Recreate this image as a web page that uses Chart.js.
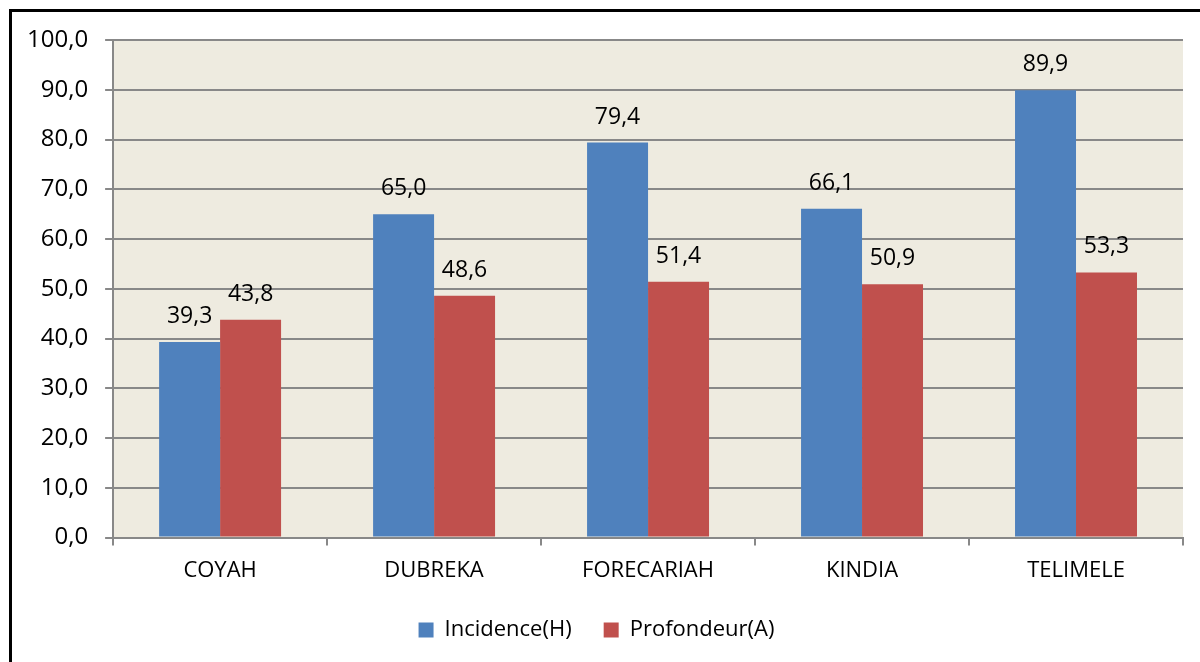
<!DOCTYPE html>
<html>
<head>
<meta charset="utf-8">
<script src="https://cdn.jsdelivr.net/npm/chart.js"></script>
<style>
  body { margin: 0; background: #fff; overflow: hidden; }
  #frame { position: absolute; left: 9px; top: 9px; width: 1300px; height: 800px;
           border-left: 3px solid #000; border-top: 3px solid #000; }
  #wrap { position: absolute; left: 0; top: 0; width: 1200px; height: 662px; }
</style>
</head>
<body>
<div id="frame"></div>
<div id="wrap"><canvas id="chart"></canvas></div>
<script>
const categories = ['COYAH', 'DUBREKA', 'FORECARIAH', 'KINDIA', 'TELIMELE'];
const incidence = [39.3, 65.0, 79.4, 66.1, 89.9];
const profondeur = [43.8, 48.6, 51.4, 50.9, 53.3];
const seriesNames = ['Incidence(H)', 'Profondeur(A)'];

const fmt = v => v.toFixed(1).replace('.', ',');

// fond beige de la zone de tracé
const plotBg = {
    id: 'plotBg',
    beforeDraw(chart) {
        const a = chart.chartArea;
        const ctx = chart.ctx;
        ctx.save();
        ctx.fillStyle = '#EEEBE0';
        ctx.fillRect(a.left, a.top, a.right - a.left, a.bottom - a.top);
        ctx.restore();
    }
};

// étiquettes de valeurs au-dessus des barres
const valueLabels = {
    id: 'valueLabels',
    afterDatasetsDraw(chart) {
        const ctx = chart.ctx;
        ctx.save();
        ctx.font = '23px "Open Sans"';
        ctx.fillStyle = '#000';
        ctx.textAlign = 'center';
        ctx.textBaseline = 'bottom';
        chart.data.datasets.forEach((ds, i) => {
            chart.getDatasetMeta(i).data.forEach((bar, j) => {
                ctx.fillText(fmt(ds.data[j]), bar.x, bar.y - 14);
            });
        });
        ctx.restore();
    }
};

new Chart(document.getElementById('chart'), {
    type: 'bar',
    data: {
        labels: categories,
        datasets: [
            { label: seriesNames[0], data: incidence, backgroundColor: '#4F81BD' },
            { label: seriesNames[1], data: profondeur, backgroundColor: '#C0504D' }
        ]
    },
    options: {
        responsive: true,
        maintainAspectRatio: false,
        animation: false,
        datasets: { bar: { categoryPercentage: 0.57, barPercentage: 1.0 } },
        layout: { padding: { left: 10, right: 17, top: 40, bottom: 11 } },
        scales: {
            y: {
                min: 0, max: 100,
                ticks: { stepSize: 10, color: '#000', font: { family: 'Open Sans', size: 24 },
                         padding: 17, callback: v => fmt(v) },
                grid: { color: '#888888', lineWidth: 2, tickLength: 8 },
                border: { color: '#888888', width: 2 }
            },
            x: {
                ticks: { color: '#000', font: { family: 'Open Sans', size: 22 }, padding: 12 },
                grid: { drawOnChartArea: false, color: '#888888', lineWidth: 2, tickLength: 8 },
                border: { color: '#888888', width: 2 },
                afterFit: scale => { scale.height -= 9; }  // rapproche la légende
            }
        },
        plugins: {
            legend: {
                position: 'bottom',
                labels: { color: '#000', font: { family: 'Open Sans', size: 22 },
                          boxWidth: 15, boxHeight: 15, padding: 32 }
            },
            tooltip: { enabled: false }
        }
    },
    plugins: [plotBg, valueLabels]
});
</script>
</body>
</html>
